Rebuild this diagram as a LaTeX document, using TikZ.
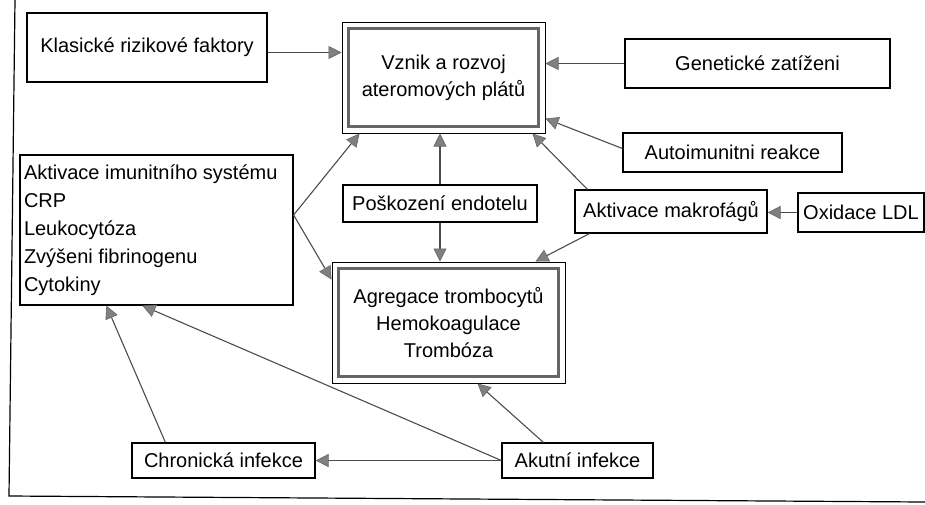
\documentclass[tikz,border=0pt]{standalone}
\usepackage{fontspec}
\setmainfont{Liberation Sans}
\usetikzlibrary{arrows.meta}

\begin{document}
\begin{tikzpicture}[x=1pt, y=-1pt, font=\fontsize{20}{27}\selectfont,
    box/.style={draw, line width=1.2pt, inner sep=2pt, align=center},
    band/.style={draw=black!60, line width=3.5pt},
    arr/.style={draw=black!70, line width=1.1pt,
      -{Triangle[length=13pt, width=13pt, color=black!60, fill=black!50, line width=0.6pt]}}]
  \useasboundingbox (0,0) rectangle (925,504);
  % frame of the scan
  \draw[line width=1.2pt] (15,0) -- (9,496) -- (925,502);
  % boxes
  \node[box, minimum width=240pt, minimum height=69pt] (klasicke) at (147,47.5) {Klasické rizikové faktory};
  \node[box, line width=1pt, minimum width=203pt, minimum height=111pt] (vznik) at (443.5,77.5) {Vznik a rozvoj\\ ateromových plátů};
  \node[box, minimum width=265pt, minimum height=49pt] (geneticke) at (757.5,63.5) {Genetické zatíženi};
  \node[box, minimum width=219pt, minimum height=39pt] (autoimun) at (732.5,152.5) {Autoimunitni reakce};
  \node[box, align=flush left, text width=265pt, inner xsep=4pt, minimum height=150pt,
    font=\fontsize{20}{28}\selectfont] (imunit) at (156.5,230)
    {Aktivace imunitního systému\\ CRP\\ Leukocytóza\\ Zvýšeni fibrinogenu\\ Cytokiny};
  \node[box, minimum width=194pt, minimum height=37pt] (poskozeni) at (440,203.5) {Poškození endotelu};
  \node[box, minimum width=192pt, minimum height=43pt] (makrofagu) at (671,211.5) {Aktivace makrofágů};
  \node[box, minimum width=126pt, minimum height=39pt] (oxidace) at (861,212.5) {Oxidace LDL};
  \node[box, line width=1pt, minimum width=233pt, minimum height=121pt] (agregace) at (448.5,322.5) {Agregace trombocytů\\ Hemokoagulace\\ Trombóza};
  \node[box, minimum width=183pt, minimum height=35pt] (chronicka) at (223.5,460.5) {Chronická infekce};
  \node[box, minimum width=151pt, minimum height=35pt] (akutni) at (577.5,460.5) {Akutní infekce};
  % inner frames of the two main boxes
  \foreach \n in {vznik, agregace}
    \draw[band] ([xshift=7pt, yshift=-7pt]\n.north west) rectangle ([xshift=-7pt, yshift=7pt]\n.south east);
  % arrows
  \coordinate (k1) at ([yshift=-5pt]klasicke.east);
  \draw[arr] (k1) -- (k1 -| vznik.west);
  \draw[arr] (geneticke.west) -- (geneticke.west -| vznik.east);
  \draw[arr] ([yshift=4pt]autoimun.west) -- ([yshift=15pt]vznik.south east);
  \draw[arr] ([yshift=15pt]imunit.east) -- ([xshift=18pt]vznik.south west);
  \draw[arr] ([yshift=15pt]imunit.east) -- ([yshift=-18pt]agregace.north west);
  \draw[arr] (poskozeni.north) -- (poskozeni.north |- vznik.south);
  \draw[arr] (poskozeni.south) -- (poskozeni.south |- agregace.north);
  \draw[arr] ([xshift=13pt]makrofagu.north west) -- ([xshift=-13pt]vznik.south east);
  \draw[arr] ([xshift=15pt]makrofagu.south west) -- ([xshift=-30pt]agregace.north east);
  \draw[arr] (oxidace.west) -- (oxidace.west -| makrofagu.east);
  \draw[arr] ([xshift=34pt]chronicka.north west) -- ([xshift=87pt]imunit.south west);
  \draw[arr] (akutni.west) -- ([xshift=123pt]imunit.south west);
  \draw[arr] (akutni.west) -- (chronicka.east);
  \draw[arr] ([xshift=42pt]akutni.north west) -- ([xshift=146pt]agregace.south west);
\end{tikzpicture}
\end{document}
